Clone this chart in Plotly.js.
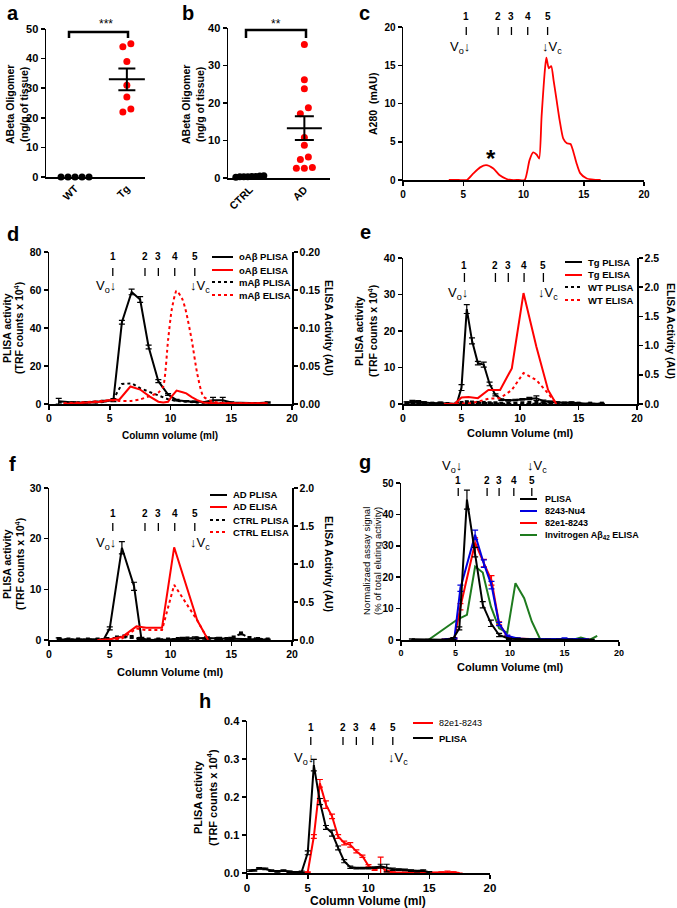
<!DOCTYPE html>
<html><head><meta charset="utf-8">
<script src="https://cdn.plot.ly/plotly-3.0.1.min.js"></script>
<style>html,body{margin:0;padding:0;background:#fff}#chart{width:677px;height:908px}</style>
</head><body><div id="chart"></div>
<script>
// ---------------- DATA ----------------
// panel a
const aCategories = ['WT', 'Tg'];
const aWT = [0, 0, 0, 0, 0];
const aTg = [45, 44, 39, 31, 27, 23, 22];
// panel b
const bCategories = ['CTRL', 'AD'];
const bCTRL = [0.6, 0.5, 0.4, 0.3, 0.3, 0.2, 0.3, 0.4];
const bAD = [35.6, 26.2, 23.8, 18.7, 17.1, 10.8, 8.7, 5.6, 4.9, 2.8, 2.6, 2.6];
// panel c
const cVol = [3.8,4.6,5.3,5.8,6.4,6.9,7.5,8.0,8.6,9.0,9.6,10.1,10.5,10.8,11.1,11.3,11.5,11.8,11.9,12.1,12.3,12.5,12.75,13.0,13.3,13.6,13.9,14.1,14.4,14.7,15.25,16.4];
const cA280 = [0,0,0,0.8,1.65,1.95,1.5,0.65,0.13,0,0,0,2.6,3.6,3.3,2.8,8.3,14.8,16.0,14.6,14.9,13.0,10.4,7.8,5.4,4.8,4.7,3.9,2.2,0.9,0.2,0];
// panel d
const dVol = [0.8,2.0,3.0,3.8,4.5,5.3,6.0,6.8,7.5,8.2,9.0,9.8,10.5,11.3,12.0,12.8,13.5,14.3,15.0,15.8,16.5,17.3,18.0];
const dOabPLISA = [1.5,0.8,0.8,1.0,1.5,2.0,43,59,55,30,12,5,2,1.5,1.2,1.0,2.0,2.0,0.8,0.5,0.5,0.5,0.8];
const dOabPLISAerr = [1.5,0.3,0.3,0.4,0.4,0.8,1.0,1.5,1.5,1.0,0.8,0.5,0.4,0.3,0.3,0.3,1.5,1.5,0.3,0.3,0.3,0.3,0.3];
const dMabPLISA = [1.0,0.8,0.7,0.8,1.0,2.5,10.5,10.9,8.3,6.5,4.7,2.5,1.6,1.0,0.8,0.6,0.5,0.5,0.5,0.5,0.5,0.5,0.5];
const dElisaVol = [1.2,2.5,3.5,4.3,5.0,5.8,6.7,7.5,8.3,9.0,9.4,9.8,10.1,10.5,11.0,11.3,11.75,12.2,12.7,13.5,14.6,16.0,18.0];
const dOabELISA = [0.000,0.001,0.002,0.003,0.005,0.006,0.023,0.019,0.0097,0.003,0.002,0.003,0.010,0.0176,0.0155,0.014,0.009,0.005,0.002,0.001,0.001,0.001,0.001];
const dMabELISA = [0.001,0.002,0.003,0.004,0.005,0.004,0.004,0.006,0.0105,0.015,0.023,0.084,0.124,0.149,0.137,0.12,0.084,0.04,0.01,0.003,0.001,0.001,0.001];
// panel e
const eVol = [0.3,0.8,1.3,1.8,2.5,3.2,3.8,4.6,5.0,5.45,5.9,6.4,6.9,7.4,7.9,8.4,9.0,9.6,10.2,10.8,11.4,12.0,12.6,13.2,13.8,14.4,15.0,16.0,17.0];
const eTgPLISA = [0.3,0.7,0.6,0.4,0.2,0.3,0.1,0.1,4.5,26,17.3,11.2,10.8,5.5,2.5,1.2,1.0,1.1,1.3,1.5,1.6,0.8,0.6,0.4,0.3,0.4,0.2,0.1,0.1];
const eTgPLISAerr = [0.3,0.3,0.3,0.2,0.2,0.2,0.1,0.1,0.8,1.2,0.8,0.5,0.7,0.5,0.3,0.2,0.2,0.2,0.2,0.3,0.6,0.3,0.2,0.2,0.2,0.2,0.1,0.1,0.1];
const eWTPLISA = [0.2,0.3,0.2,0.2,0.1,0.1,0.0,0.1,0.3,0.5,0.4,0.3,0.3,0.2,0.2,0.1,0.1,0.1,0.2,0.3,0.3,0.2,0.1,0.1,0.1,0.1,0.1,0.1,0.1];
const eElisaVol = [3.5,4.4,5.0,5.6,6.4,7.3,8.3,9.3,10.3,11.4,12.4,13.1];
const eTgELISA = [0,0,0.11,0.12,0.1,0.24,0.24,0.61,1.9,0.98,0.24,0.0];
const eWTELISA = [0,0,0,0.01,0.04,0.09,0.1,0.24,0.53,0.41,0.18,0.01];
// panel f
const fVol = [0.8,1.5,2.5,3.5,4.5,5.0,6.0,7.0,7.6,8.3,9.0,10.0,11.0,12.0,13.0,14.0,15.0,16.0,17.0,18.0];
const fAdPLISA = [0.1,0.1,0.1,0.1,0.1,2.3,18.2,10.6,0.3,0.0,0.0,0.1,0.3,0.4,0.4,0.3,0.3,0.2,0.1,0.1];
const fAdPLISAerr = [0.3,0.1,0.1,0.1,0.1,0.3,1.2,0.8,0.2,0.1,0.1,0.1,0.2,0.2,0.2,0.2,0.2,0.1,0.1,0.1];
const fCtrlVol = [0.8,1.6,2.4,3.2,4.0,4.8,5.6,6.2,6.8,7.4,8.2,9.0,9.8,10.6,11.4,12.2,13.0,13.8,14.6,15.2,15.8,16.5,17.2,18.0];
const fCtrlPLISA = [0.2,0.1,0.1,0.1,0.1,0.2,0.5,0.7,0.6,0.2,0.1,0.1,0.1,0.2,0.3,0.3,0.2,0.2,0.2,0.5,1.3,0.4,0.2,0.1];
const fElisaVol = [4.0,5.0,6.0,7.2,8.0,9.3,10.3,11.3,12.2,13.1];
const fAdELISA = [0,0.01,0.04,0.18,0.16,0.16,1.22,0.72,0.26,0];
const fCtrlELISA = [0,0,0.02,0.15,0.13,0.13,0.725,0.48,0.26,0];
// panel g
const gPlisaVol = [1.0,2.5,4.0,4.8,5.35,6.05,6.8,7.5,8.25,9.0,9.9,10.7,11.5,12.5,13.5,14.5,15.5,16.5,17.5];
const gPlisa = [0.2,0.1,0.1,0.5,3.7,44.7,28,11.2,5.3,1.6,0.4,0.3,0.2,0.2,0.1,0.1,0.1,0.1,0.1];
const gPlisaErr = [0.2,0.1,0.1,0.3,0.5,3,1.5,1,1,0.5,0.2,0.2,0.1,0.1,0.1,0.1,0.1,0.1,0.1];
const gNu4Vol = [4.0,4.9,5.45,6.8,7.6,8.3,9.0,9.75,10.7,11.5,12.5,13.5,15.0,16.0,17.0];
const gNu4 = [0.2,0.5,16.5,33.5,24.3,17.5,5.1,1.3,0.5,0.3,0.3,0.3,0.5,0.3,0.3];
const gNu4Err = [0.1,0.2,1,1.5,1.2,1.2,0.5,0.3,0.2,0.1,0.1,0.1,0.2,0.1,0.1];
const g82e1Vol = [4.0,4.9,5.45,6.8,7.6,8.3,9.0,9.75,10.5,11.5,12.5,13.5,15.0,16.0,17.0];
const g82e1 = [0.2,0.5,10.6,31,24.5,19,5.3,1.1,0.5,0.3,0.2,0.2,0.3,0.2,0.2];
const g82e1Err = [0.1,0.2,1,1.5,1.2,1.5,0.5,0.3,0.2,0.1,0.1,0.1,0.1,0.1,0.1];
const gInvVol = [2.5,5.2,6.05,6.8,7.5,8.25,9.0,9.75,10.5,11.3,12.0,12.8,15.7,16.5,17.3,18.0];
const gInv = [0,6.6,8,23.4,21.5,10.6,3.7,2.3,18.1,13.3,5.9,0,0,0.8,0,1.3];
// panel h
const hPlisaVol = [0.2,0.6,1.0,1.5,2.0,2.5,3.0,3.5,4.0,4.5,5.0,5.5,6.0,6.5,7.0,7.5,8.0,8.5,9.0,9.5,10.0,10.5,11.0,11.5,12.0,12.5,13.0,13.5,14.0,14.5,15.0];
const hPlisa = [0.006,0.007,0.012,0.011,0.006,0.004,0.006,0.003,0.002,0.003,0.053,0.284,0.188,0.12,0.105,0.066,0.031,0.015,0.013,0.013,0.013,0.014,0.018,0.013,0.010,0.009,0.008,0.006,0.005,0.006,0.002];
const hPlisaErr = [0.002,0.002,0.002,0.002,0.002,0.002,0.002,0.002,0.002,0.002,0.005,0.015,0.008,0.005,0.008,0.005,0.004,0.003,0.002,0.002,0.002,0.002,0.005,0.01,0.003,0.002,0.002,0.002,0.002,0.002,0.002];
const h82Vol = [3.5,4.0,4.5,5.0,5.5,6.0,6.5,7.0,7.5,8.0,8.5,9.0,9.5,10.0,10.5,11.0,11.5,12.0,13.0,14.0,15.0,16.0,16.5,17.0,17.5];
const h82 = [0,0,0,0.002,0.096,0.236,0.18,0.149,0.096,0.079,0.074,0.057,0.044,0.019,0.009,0.017,0.005,0.002,0.001,0.001,0.001,0.002,0.003,0.002,0];
const h82Err = [0,0,0,0.001,0.005,0.01,0.01,0.006,0.005,0.005,0.006,0.004,0.003,0.003,0.002,0.025,0.002,0.001,0.001,0.001,0.001,0.001,0.002,0.001,0];
// fraction markers (column volume, ml) and void / total volume
const fractionLabels = ['1', '2', '3', '4', '5'];
const fractionVol = [5.25, 7.9, 9.0, 10.35, 12.0];
const voidVol = 5.2, totalVol = 11.9;

// ---------------- LAYOUT HELPERS ----------------
const W = 677, H = 908;
const FONT = 'Liberation Sans, Arial, sans-serif';
const RED = '#ff0000', BLACK = '#000000', BLUE = '#0000e0', GREEN = '#1e7b1e';
const PX = p => p / W, PY = p => 1 - p / H;
function fnt(size, bold, color) { return {family: FONT, size: size, color: color || '#000', weight: bold ? 'bold' : 'normal'}; }
const P = {
  a: {x: [46, 145], y: [29, 177]},
  b: {x: [228, 330], y: [28, 178]},
  c: {x: [403, 644], y: [27, 180]},
  d: {x: [49, 292], y: [252, 404]},
  e: {x: [403, 637], y: [258, 404]},
  f: {x: [49, 292], y: [488, 640]},
  g: {x: [401, 619], y: [483, 640]},
  h: {x: [247, 490], y: [721, 873]}
};
const dx = k => [PX(P[k].x[0]), PX(P[k].x[1])];
const dy = k => [PY(P[k].y[1]), PY(P[k].y[0])];
function ax(o) {
  return Object.assign({
    showline: true, linecolor: '#000', linewidth: 1.5, ticks: 'outside', ticklen: 4, tickwidth: 1.5,
    tickcolor: '#000', showgrid: false, zeroline: false, fixedrange: true, tickfont: fnt(10, true)
  }, o);
}

// beeswarm offsets computed from the values
function swarm(vals, center, key, xr, yr) {
  const pxX = (P[key].x[1] - P[key].x[0]) / (xr[1] - xr[0]);
  const pxY = (P[key].y[1] - P[key].y[0]) / (yr[1] - yr[0]);
  const diam = 7, step = 8, maxW = 28;
  const idx = vals.map((v, i) => i).sort((i, j) => vals[i] - vals[j]);
  const groups = []; let cur = [idx[0]];
  for (let k = 1; k < idx.length; k++) {
    if ((vals[idx[k]] - vals[cur[cur.length - 1]]) * pxY < diam) cur.push(idx[k]);
    else { groups.push(cur); cur = [idx[k]]; }
  }
  groups.push(cur);
  const xs = new Array(vals.length);
  groups.forEach(g => {
    const n = g.length, d = n > 1 ? Math.min(step, maxW / (n - 1)) : 0;
    g.forEach((i, k) => { xs[i] = center + (k - (n - 1) / 2) * d / pxX; });
  });
  return xs;
}
const mean = v => v.reduce((s, x) => s + x, 0) / v.length;
const sem = v => { const m = mean(v); return Math.sqrt(v.reduce((s, x) => s + (x - m) * (x - m), 0) / (v.length - 1)) / Math.sqrt(v.length); };

const aXR = [-0.56, 1.35], aYR = [0, 50];
const bXR = [-0.4, 1.47], bYR = [0, 40];

// ---------------- TRACES ----------------
const traces = [];
function dots(vals, center, key, xr, yr, color, xa, ya, name) {
  traces.push({type: 'scatter', mode: 'markers', name: name, x: swarm(vals, center, key, xr, yr), y: vals,
    xaxis: xa, yaxis: ya, cliponaxis: false, marker: {size: 7, color: color}, hoverinfo: 'y'});
}
function meanBar(vals, center, xa, ya, len, cap) {
  traces.push({type: 'scatter', mode: 'markers', name: 'mean', x: [center], y: [mean(vals)], xaxis: xa, yaxis: ya,
    cliponaxis: false, marker: {symbol: 'line-ew', size: len / 1.4, color: '#000', line: {color: '#000', width: 2}},
    error_y: {type: 'data', array: [sem(vals)], color: '#000', thickness: 2, width: cap}});
}
dots(aWT, 0, 'a', aXR, aYR, BLACK, 'x', 'y', 'WT');
dots(aTg, 1, 'a', aXR, aYR, RED, 'x', 'y', 'Tg');
meanBar(aTg, 1, 'x', 'y', 36, 8.5);
dots(bCTRL, 0, 'b', bXR, bYR, BLACK, 'x2', 'y2', 'CTRL');
dots(bAD, 1, 'b', bXR, bYR, RED, 'x2', 'y2', 'AD');
meanBar(bAD, 1, 'x2', 'y2', 35, 9.5);

function line(x, y, xa, ya, color, name, opts) {
  const o = opts || {};
  const t = {type: 'scatter', mode: o.markers ? 'lines+markers' : 'lines', name: name, x: x, y: y, xaxis: xa, yaxis: ya,
    cliponaxis: false, line: {color: color, width: o.width || 1.8, dash: o.dash || 'solid', shape: o.spline ? 'spline' : 'linear', smoothing: 0.6}};
  if (o.err) t.error_y = {type: 'data', array: o.err, color: color, thickness: 1.2, width: 3};
  if (o.markers) t.marker = {symbol: 'square', size: 4, color: color};
  traces.push(t);
}
// c
line(cVol, cA280, 'x3', 'y3', RED, 'A280', {spline: true, width: 1.8});
// d
line(dElisaVol, dMabELISA, 'x4', 'y5', RED, 'mAβ ELISA', {dash: 'dot', spline: true, width: 2});
line(dElisaVol, dOabELISA, 'x4', 'y5', RED, 'oAβ ELISA', {width: 2});
line(dVol, dMabPLISA, 'x4', 'y4', BLACK, 'mAβ PLISA', {dash: 'dot', width: 2});
line(dVol, dOabPLISA, 'x4', 'y4', BLACK, 'oAβ PLISA', {err: dOabPLISAerr, width: 2});
// e
line(eElisaVol, eWTELISA, 'x5', 'y7', RED, 'WT ELISA', {dash: 'dot', width: 2});
line(eElisaVol, eTgELISA, 'x5', 'y7', RED, 'Tg ELISA', {width: 2});
line(eVol, eWTPLISA, 'x5', 'y6', BLACK, 'WT PLISA', {dash: 'dot', width: 2, markers: true});
line(eVol, eTgPLISA, 'x5', 'y6', BLACK, 'Tg PLISA', {err: eTgPLISAerr, width: 2});
// f
line(fElisaVol, fCtrlELISA, 'x6', 'y9', RED, 'CTRL ELISA', {dash: 'dot', width: 2});
line(fElisaVol, fAdELISA, 'x6', 'y9', RED, 'AD ELISA', {width: 2});
line(fCtrlVol, fCtrlPLISA, 'x6', 'y8', BLACK, 'CTRL PLISA', {dash: 'dot', width: 2, markers: true});
line(fVol, fAdPLISA, 'x6', 'y8', BLACK, 'AD PLISA', {err: fAdPLISAerr, width: 2});
// g
line(gInvVol, gInv, 'x7', 'y10', GREEN, 'Invitrogen Aβ42 ELISA', {width: 2});
line(g82e1Vol, g82e1, 'x7', 'y10', RED, '82e1-8243', {err: g82e1Err, width: 2});
line(gNu4Vol, gNu4, 'x7', 'y10', BLUE, '8243-Nu4', {err: gNu4Err, width: 2});
line(gPlisaVol, gPlisa, 'x7', 'y10', BLACK, 'PLISA', {err: gPlisaErr, width: 2});
// h
line(h82Vol, h82, 'x8', 'y11', RED, '82e1-8243', {err: h82Err, width: 2});
line(hPlisaVol, hPlisa, 'x8', 'y11', BLACK, 'PLISA', {err: hPlisaErr, width: 2});

// ---------------- ANNOTATIONS / SHAPES ----------------
const anns = [], shapes = [];
function A(text, xp, yp, o) {
  anns.push(Object.assign({text: text, x: PX(xp), y: PY(yp), xref: 'paper', yref: 'paper', showarrow: false,
    xanchor: 'center', yanchor: 'middle', font: fnt(10, true)}, o || {}));
}
// panel letters
[['a', 13, 13], ['b', 188, 13], ['c', 364, 13], ['d', 13, 234], ['e', 366, 232], ['f', 12, 464], ['g', 365, 462], ['h', 205, 701]]
  .forEach(l => A(l[0], l[1], l[2], {font: fnt(20, true), borderpad: 0}));
// y titles (one annotation per line)
function ytitle(lines, xs, yc, angle, size, bold) {
  lines.forEach((t, i) => A(t, xs[i], yc, {textangle: angle, font: fnt(size, bold), borderpad: 0}));
}
ytitle(['ABeta Oligomer', '(ng/g of tissue)'], [10, 24], 105, -90, 10.5, true);
ytitle(['ABeta Oligomer', '(ng/g of tissue)'], [186, 200], 105, -90, 10.5, true);
ytitle(['A280  (mAU)'], [373], 104, -90, 10.5, true);
ytitle(['PLISA activity', '(TRF counts x 10<sup>4</sup>)'], [7, 19], 328, -90, 10.5, true);
ytitle(['ELISA Activity (AU)'], [329], 328, 90, 10.5, true);
ytitle(['PLISA activity', '(TRF counts x 10<sup>4</sup>)'], [359, 372], 331, -90, 10.5, true);
ytitle(['ELISA Activity (AU)'], [671], 331, 90, 10.5, true);
ytitle(['PLISA activity', '(TRF counts x 10<sup>4</sup>)'], [7, 19], 564, -90, 10.5, true);
ytitle(['ELISA Activity (AU)'], [329], 564, 90, 10.5, true);
ytitle(['Normalizaed assay signal', '(% of total eluting activity)'], [366, 377], 561, -90, 9.5, false);
ytitle(['PLISA activity', '(TRF counts x 10<sup>4</sup>)'], [198, 212], 797, -90, 11, true);
// x titles
A('Column volume (ml)', 170, 435, {font: fnt(10, true)});
A('Column Volume (ml)', 520, 433, {font: fnt(11, true)});
A('Column Volume (ml)', 170, 672, {font: fnt(11, true)});
A('Column Volume (ml)', 510, 667, {font: fnt(11, true)});
A('Column Volume (ml)', 368, 901, {font: fnt(12, true)});
// significance brackets
function bracket(x0, x1, yTop, yLeg) {
  shapes.push({type: 'path', xref: 'paper', yref: 'paper', line: {color: '#000', width: 2.5},
    path: `M ${PX(x0)},${PY(yLeg)} L ${PX(x0)},${PY(yTop)} L ${PX(x1)},${PY(yTop)} L ${PX(x1)},${PY(yLeg)}`});
}
bracket(69, 128, 32, 38); A('***', 106, 24, {font: fnt(12, false)});
bracket(246, 306, 30, 38); A('**', 276, 24, {font: fnt(12, false)});
A('*', 491, 158, {font: fnt(24, true)});
// fraction markers
function fractions(xa, numY, t0, t1, vY) {
  fractionVol.forEach((v, i) => {
    anns.push({text: fractionLabels[i], x: v, y: PY(numY), xref: xa, yref: 'paper', showarrow: false,
      xanchor: 'center', yanchor: 'middle', font: fnt(10, true)});
    shapes.push({type: 'line', xref: xa, yref: 'paper', x0: v, x1: v, y0: PY(t0), y1: PY(t1), line: {color: '#000', width: 1.3}});
  });
  anns.push({text: 'V<sub>o</sub>↓', x: voidVol, y: PY(vY), xref: xa, yref: 'paper', showarrow: false,
    xanchor: 'right', yanchor: 'middle', xshift: 6, font: fnt(13, false)});
  anns.push({text: '↓V<sub>c</sub>', x: totalVol, y: PY(vY), xref: xa, yref: 'paper', showarrow: false,
    xanchor: 'left', yanchor: 'middle', xshift: -6, font: fnt(13, false)});
}
fractions('x3', 17, 27, 35, 48);
fractions('x4', 257, 268, 276, 286);
fractions('x5', 265, 273, 282, 293);
fractions('x6', 513, 523, 531, 543);
fractions('x7', 480, 488, 496, 467);
fractions('x8', 727, 737, 745, 758);
// legends
function legend(items, rows, lx0, lx1, tx, size) {
  items.forEach((it, i) => {
    shapes.push({type: 'line', xref: 'paper', yref: 'paper', x0: PX(lx0), x1: PX(lx1), y0: PY(rows[i]), y1: PY(rows[i]),
      line: {color: it[1], width: 2, dash: it[2]}});
    A(it[0], tx, rows[i], {xanchor: 'left', font: fnt(it[3] || size, it[4] !== false)});
  });
}
legend([['oAβ PLISA', BLACK, 'solid'], ['oAβ ELISA', RED, 'solid'], ['mAβ PLISA', BLACK, 'dot'], ['mAβ ELISA', RED, 'dot']],
  [257, 270, 282, 295], 212, 233, 237, 9.5);
legend([['Tg PLISA', BLACK, 'solid'], ['Tg ELISA', RED, 'solid'], ['WT PLISA', BLACK, 'dot'], ['WT ELISA', RED, 'dot']],
  [262, 275, 287, 300], 565, 582, 586, 9.5);
legend([['AD PLISA', BLACK, 'solid'], ['AD ELISA', RED, 'solid'], ['CTRL PLISA', BLACK, 'dot'], ['CTRL ELISA', RED, 'dot']],
  [495, 507, 520, 532], 210, 227, 231, 9.5);
legend([['PLISA', BLACK, 'solid'], ['8243-Nu4', BLUE, 'solid'], ['82e1-8243', RED, 'solid'], ['Invitrogen Aβ<sub>42</sub> ELISA', GREEN, 'solid']],
  [499, 511, 523, 535], 520, 537, 543, 9);
legend([['82e1-8243', RED, 'solid', 9, false], ['PLISA', BLACK, 'solid', 9.5, true]],
  [723, 738], 413, 433, 437, 9);

// ---------------- LAYOUT ----------------
const layout = {
  width: W, height: H, margin: {l: 0, r: 0, t: 0, b: 0}, paper_bgcolor: '#fff', plot_bgcolor: 'rgba(0,0,0,0)',
  showlegend: false, font: fnt(10, true), annotations: anns, shapes: shapes,
  xaxis: ax({domain: dx('a'), range: aXR, anchor: 'y', tickvals: [0, 1], ticktext: aCategories, ticks: '', tickangle: -45, tickfont: fnt(10.5, true)}),
  yaxis: ax({domain: dy('a'), range: aYR, anchor: 'x', dtick: 10, tickfont: fnt(11, true)}),
  xaxis2: ax({domain: dx('b'), range: bXR, anchor: 'y2', tickvals: [0, 1], ticktext: bCategories, ticks: '', tickangle: -45, tickfont: fnt(10.5, true)}),
  yaxis2: ax({domain: dy('b'), range: bYR, anchor: 'x2', dtick: 10, tickfont: fnt(11, true)}),
  xaxis3: ax({domain: dx('c'), range: [0, 20], anchor: 'y3', dtick: 5}),
  yaxis3: ax({domain: dy('c'), range: [0, 20], anchor: 'x3', dtick: 5}),
  xaxis4: ax({domain: dx('d'), range: [0, 20], anchor: 'y4', dtick: 5, tickfont: fnt(10.5, true)}),
  yaxis4: ax({domain: dy('d'), range: [0, 80], anchor: 'x4', dtick: 20, tickfont: fnt(10.5, true)}),
  yaxis5: ax({overlaying: 'y4', side: 'right', anchor: 'x4', range: [0, 0.2], dtick: 0.05, tickformat: '.2f', tickfont: fnt(10.5, true)}),
  xaxis5: ax({domain: dx('e'), range: [0, 20], anchor: 'y6', dtick: 5, tickfont: fnt(10.5, true)}),
  yaxis6: ax({domain: dy('e'), range: [0, 40], anchor: 'x5', dtick: 10, tickfont: fnt(10.5, true)}),
  yaxis7: ax({overlaying: 'y6', side: 'right', anchor: 'x5', range: [0, 2.5], dtick: 0.5, tickformat: '.1f', tickfont: fnt(10.5, true)}),
  xaxis6: ax({domain: dx('f'), range: [0, 20], anchor: 'y8', dtick: 5, tickfont: fnt(10.5, true)}),
  yaxis8: ax({domain: dy('f'), range: [0, 30], anchor: 'x6', dtick: 10, tickfont: fnt(10.5, true)}),
  yaxis9: ax({overlaying: 'y8', side: 'right', anchor: 'x6', range: [0, 2], dtick: 0.5, tickformat: '.1f', tickfont: fnt(10.5, true)}),
  xaxis7: ax({domain: dx('g'), range: [0, 20], anchor: 'y10', dtick: 5, tickfont: fnt(9, true)}),
  yaxis10: ax({domain: dy('g'), range: [0, 50], anchor: 'x7', dtick: 10, tickfont: fnt(10, true)}),
  xaxis8: ax({domain: dx('h'), range: [0, 20], anchor: 'y11', dtick: 5, tickfont: fnt(11.5, true)}),
  yaxis11: ax({domain: dy('h'), range: [0, 0.4], anchor: 'x8', dtick: 0.1, tickformat: '.1f', tickfont: fnt(11, true)})
};
Plotly.newPlot('chart', traces, layout, {staticPlot: true, displayModeBar: false});
</script></body></html>
